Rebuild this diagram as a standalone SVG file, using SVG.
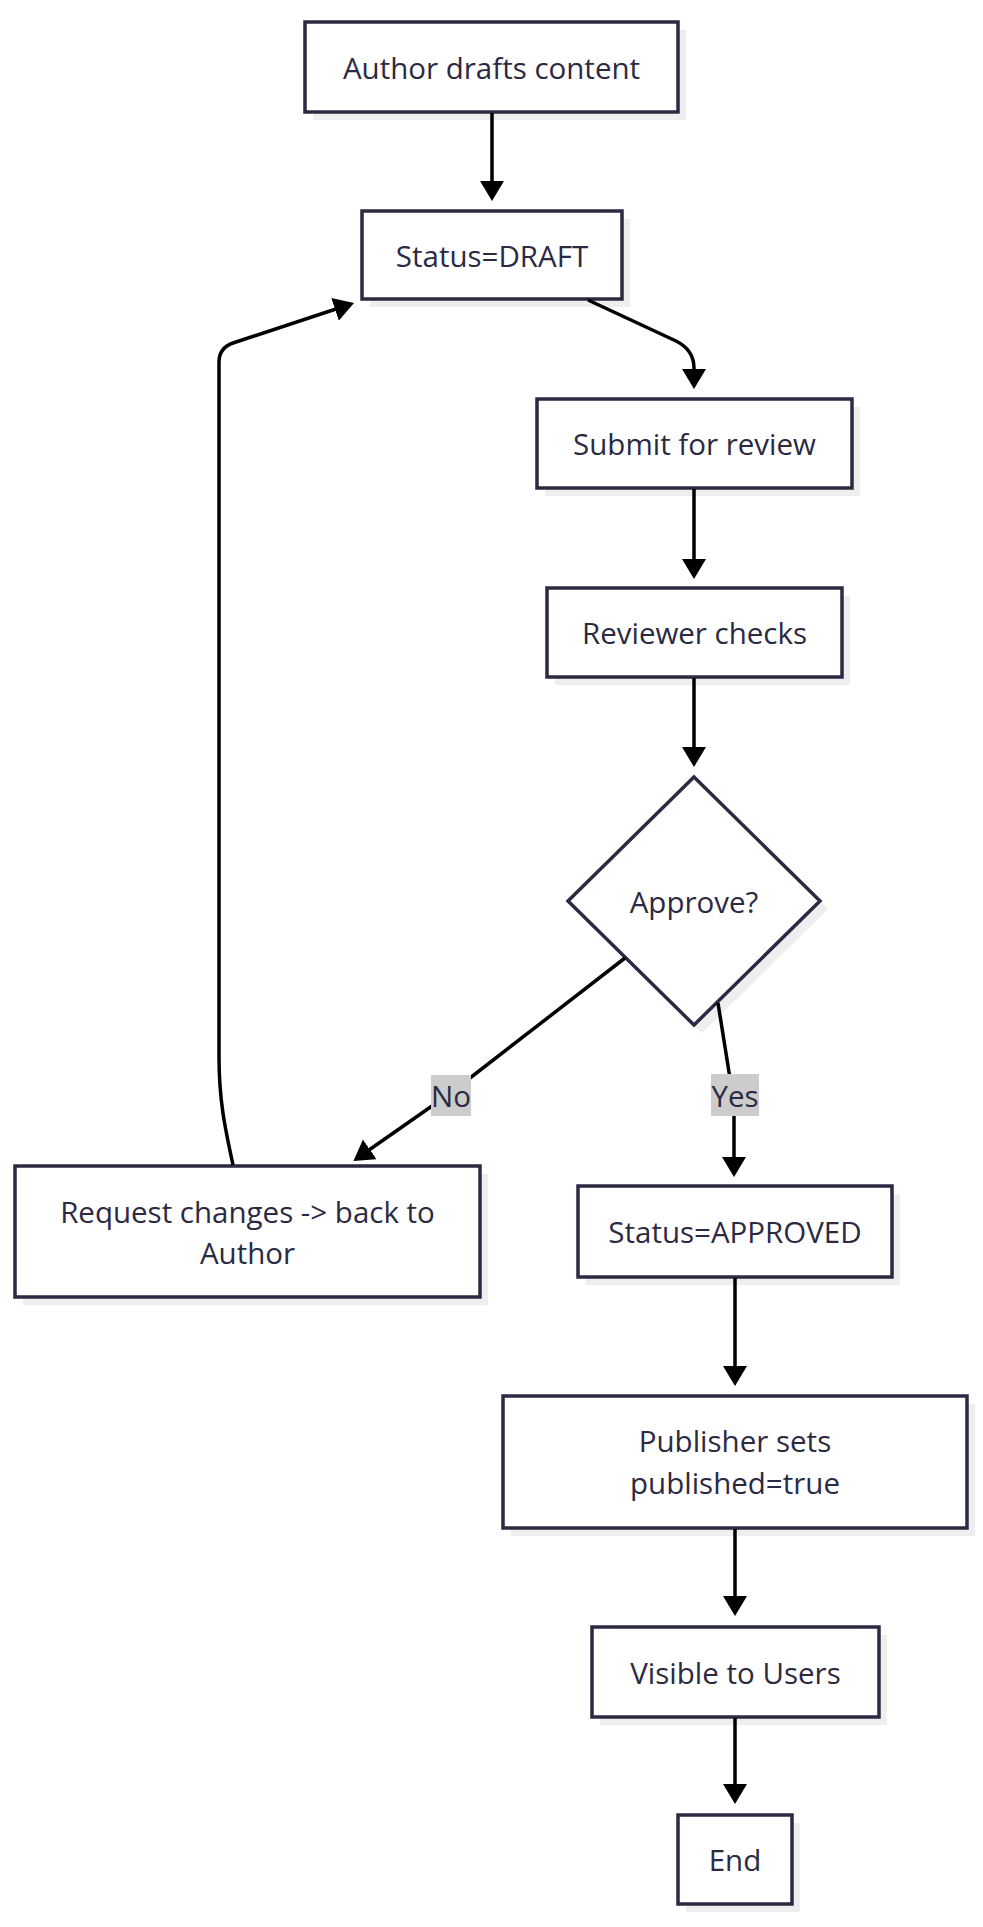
<svg xmlns="http://www.w3.org/2000/svg" width="983" height="1927" viewBox="0 0 983 1927">
<style>
.node rect.box,.node polygon.box{fill:#ffffff;stroke:#2b2a42;stroke-width:3.5}
.shadow{fill:#eeeeee;stroke:none}
text{font-family:"Open Sans","Noto Sans","DejaVu Sans",sans-serif;font-size:29.5px;fill:#2b2a42;text-anchor:middle;dominant-baseline:central}
.edge{fill:none;stroke:#000000;stroke-width:3.5}
.lbl{fill:#cccccc;stroke:none}
</style>
<defs>
<marker id="arrow" viewBox="0 0 20 24" refX="1" refY="12" markerWidth="20" markerHeight="24" markerUnits="userSpaceOnUse" orient="auto">
<path d="M0,0 L20,12 L0,24 z" fill="#000000"/>
</marker>
</defs>
<rect width="983" height="1927" fill="#ffffff"/>
<g id="n-author" class="node">
<rect class="shadow" x="313" y="30" width="373" height="90"/>
<rect class="box" x="305" y="22" width="373" height="90"/>
<text x="491.5" y="67">Author drafts content</text>
</g>
<g id="n-draft" class="node">
<rect class="shadow" x="370" y="219" width="260" height="88"/>
<rect class="box" x="362" y="211" width="260" height="88"/>
<text x="492" y="255">Status=DRAFT</text>
</g>
<g id="n-submit" class="node">
<rect class="shadow" x="545" y="407" width="315" height="89"/>
<rect class="box" x="537" y="399" width="315" height="89"/>
<text x="694.5" y="443">Submit for review</text>
</g>
<g id="n-reviewer" class="node">
<rect class="shadow" x="555" y="596" width="295" height="89"/>
<rect class="box" x="547" y="588" width="295" height="89"/>
<text x="694.5" y="632">Reviewer checks</text>
</g>
<g id="n-approve" class="node">
<polygon class="shadow" points="702,785 828,909 702,1033 576,909"/>
<polygon class="box" points="694,777 820,901 694,1025 568,901"/>
<text x="694" y="901">Approve?</text>
</g>
<g id="n-request" class="node">
<rect class="shadow" x="23" y="1174" width="465" height="131"/>
<rect class="box" x="15" y="1166" width="465" height="131"/>
<text x="247.5" y="1211">Request changes -&gt; back to</text>
<text x="247.5" y="1252">Author</text>
</g>
<g id="n-approved" class="node">
<rect class="shadow" x="586" y="1194" width="314" height="91"/>
<rect class="box" x="578" y="1186" width="314" height="91"/>
<text x="735" y="1231">Status=APPROVED</text>
</g>
<g id="n-publisher" class="node">
<rect class="shadow" x="511" y="1404" width="464" height="132"/>
<rect class="box" x="503" y="1396" width="464" height="132"/>
<text x="735" y="1440">Publisher sets</text>
<text x="735" y="1482">published=true</text>
</g>
<g id="n-visible" class="node">
<rect class="shadow" x="600" y="1635" width="287" height="90"/>
<rect class="box" x="592" y="1627" width="287" height="90"/>
<text x="735.5" y="1672">Visible to Users</text>
</g>
<g id="n-end" class="node">
<rect class="shadow" x="686" y="1823" width="114" height="89"/>
<rect class="box" x="678" y="1815" width="114" height="89"/>
<text x="735" y="1859">End</text>
</g>
<g id="connectors">
<path class="edge" d="M492,113 L492,182" marker-end="url(#arrow)"/>
<path class="edge" d="M588,300 L676,341 Q694,350 694,368 L694,370" marker-end="url(#arrow)"/>
<path class="edge" d="M694,489 L694,560" marker-end="url(#arrow)"/>
<path class="edge" d="M694,678 L694,748" marker-end="url(#arrow)"/>
<path class="edge" d="M625,958 L470,1078 Q451,1093 432,1106 L369,1150" marker-end="url(#arrow)"/>
<path class="edge" d="M718,1003 L729,1072 Q734,1096 734,1116 L734,1158" marker-end="url(#arrow)"/>
<path class="edge" d="M735,1278 L735,1367" marker-end="url(#arrow)"/>
<path class="edge" d="M735,1529 L735,1597" marker-end="url(#arrow)"/>
<path class="edge" d="M735,1718 L735,1785" marker-end="url(#arrow)"/>
<path class="edge" d="M233,1165 C225,1128 219,1100 219,1057 L219,362 Q219,348 233,343 L336,309" marker-end="url(#arrow)"/>
<g id="label-no"><rect class="lbl" x="431" y="1075" width="40" height="41"/><text x="451" y="1095">No</text></g>
<g id="label-yes"><rect class="lbl" x="711" y="1074" width="48" height="42"/><text x="735" y="1095">Yes</text></g>
</g>
</svg>
